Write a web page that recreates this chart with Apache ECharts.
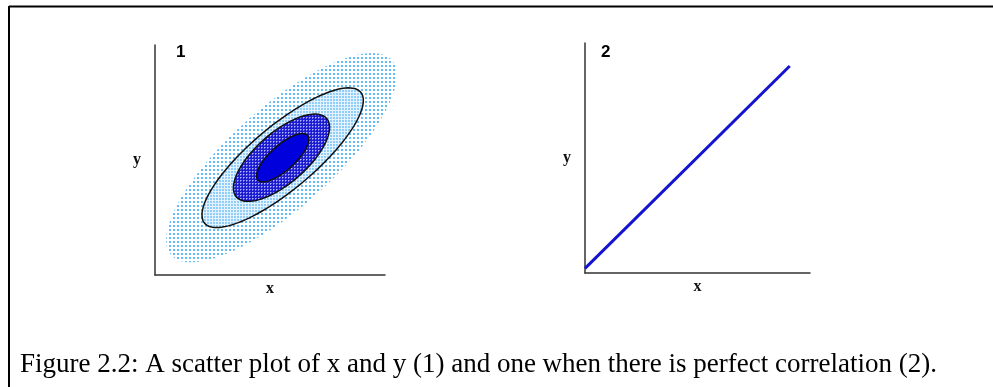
<!DOCTYPE html>
<html><head><meta charset="utf-8">
<script src="https://cdn.jsdelivr.net/npm/echarts@6/dist/echarts.min.js"></script>
<style>html,body{margin:0;padding:0;background:#fff}#c{width:993px;height:387px}</style>
</head><body><div id="c"></div>
<script>
// ---- data ----
const panelLabels = ['1', '2'];
const xName = 'x';
const yName = 'y';
const caption = 'Figure 2.2: A scatter plot of x and y (1) and one when there is perfect correlation (2).';
// panel 1: nested density contours (outer dotted cloud -> solid core)
const ellipseCx = [55, 55.5, 55, 55.5];
const ellipseCy = [51, 51, 51, 51];
const ellipseA = [64, 44.3, 26, 14.5];
const ellipseB = [22, 13.8, 11, 5.4];
const ellipseAngle = [41.5, 40, 41, 42];
// panel 2: perfect correlation line
const lineX = [0, 91];
const lineY = [2, 90];

// ---- patterns ----
function makePattern(size, bg, dots) {
  const c = document.createElement('canvas');
  c.width = size; c.height = size;
  const g = c.getContext('2d');
  if (bg) { g.fillStyle = bg; g.fillRect(0, 0, size, size); }
  dots.forEach(d => { g.fillStyle = d[4]; g.fillRect(d[0], d[1], d[2], d[3]); });
  return { image: c, repeat: 'repeat' };
}
const fills = [
  makePattern(4, '#ffffff', [[1, 1, 2, 2, '#62bdf8']]),
  makePattern(3, '#e2f3ff', [[0, 0, 2, 2, '#92cdf7']]),
  makePattern(3, '#1c1cd0', [[0, 0, 1, 1, '#b4b4ff'], [1, 0, 1, 1, '#6a6aee'], [0, 1, 1, 1, '#6a6aee']]),
  '#0000dc'
];
const strokes = [null, '#111', '#111', '#111'];

const ellipseData = ellipseCx.map((v, i) => [v, ellipseCy[i], ellipseA[i], ellipseB[i], ellipseAngle[i]]);
const lineData = lineX.map((v, i) => [v, lineY[i]]);

const axisLineStyle = { color: '#333', width: 1.5 };
const nameStyle = { fontFamily: 'Liberation Serif', fontWeight: 'bold', fontSize: 16, color: '#111' };
function xAx(gi) {
  return { gridIndex: gi, type: 'value', min: 0, max: 100, name: xName, nameLocation: 'middle', nameGap: 6,
    nameTextStyle: Object.assign({ verticalAlign: 'top' }, nameStyle),
    axisLine: { show: true, lineStyle: axisLineStyle }, axisTick: { show: false }, axisLabel: { show: false }, splitLine: { show: false } };
}
function yAx(gi) {
  return { gridIndex: gi, type: 'value', min: 0, max: 100, name: yName, nameLocation: 'middle', nameGap: 14, nameRotate: 0,
    nameTextStyle: Object.assign({ align: 'right' }, nameStyle),
    axisLine: { show: true, lineStyle: axisLineStyle }, axisTick: { show: false }, axisLabel: { show: false }, splitLine: { show: false } };
}

const chart = echarts.init(document.getElementById('c'), null, { renderer: 'canvas' });
chart.setOption({
  animation: false,
  backgroundColor: '#fff',
  title: [
    { text: panelLabels[0], left: 176, top: 44, padding: 0, textStyle: { fontSize: 17, fontWeight: 'bold', fontFamily: 'Liberation Sans', color: '#000' } },
    { text: panelLabels[1], left: 601, top: 44, padding: 0, textStyle: { fontSize: 17, fontWeight: 'bold', fontFamily: 'Liberation Sans', color: '#000' } }
  ],
  grid: [
    { left: 155, top: 45, width: 230, height: 230 },
    { left: 585, top: 43, width: 225, height: 230 }
  ],
  xAxis: [xAx(0), xAx(1)],
  yAxis: [yAx(0), yAx(1)],
  series: [
    {
      type: 'custom', xAxisIndex: 0, yAxisIndex: 0, clip: false,
      data: ellipseData,
      encode: { x: 0, y: 1 },
      renderItem: function (params, api) {
        const i = params.dataIndex;
        const cx = api.value(0), cy = api.value(1), a = api.value(2), b = api.value(3);
        const ang = api.value(4) * Math.PI / 180;
        const pts = [];
        for (let k = 0; k < 120; k++) {
          const t = k / 120 * 2 * Math.PI;
          const ex = a * Math.cos(t), ey = b * Math.sin(t);
          pts.push(api.coord([cx + ex * Math.cos(ang) - ey * Math.sin(ang), cy + ex * Math.sin(ang) + ey * Math.cos(ang)]));
        }
        return { type: 'polygon', shape: { points: pts },
          style: { fill: fills[i], stroke: strokes[i], lineWidth: strokes[i] ? 1.5 : 0 } };
      }
    },
    {
      type: 'line', xAxisIndex: 1, yAxisIndex: 1, data: lineData, showSymbol: false,
      lineStyle: { color: '#1414d0', width: 3 }
    }
  ],
  graphic: [
    { type: 'line', shape: { x1: 9, y1: 6.5, x2: 993, y2: 6.5 }, style: { stroke: '#000', lineWidth: 2 } },
    { type: 'line', shape: { x1: 9, y1: 6, x2: 9, y2: 387 }, style: { stroke: '#000', lineWidth: 2 } },
    { type: 'text', left: 20, top: 351, style: { text: caption, font: '27px "Liberation Serif"', fill: '#000' } }
  ]
});
</script>
</body></html>
